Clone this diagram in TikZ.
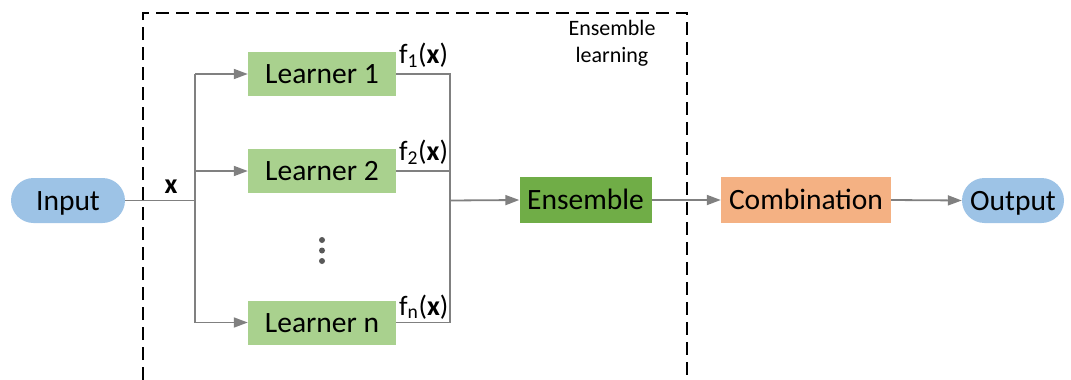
\documentclass[tikz,border=0pt]{standalone}
\usepackage{fontspec}
\setmainfont{Carlito}
\usetikzlibrary{arrows.meta,shapes.misc}
\definecolor{lblue}{HTML}{9DC3E6}
\definecolor{lgreen}{HTML}{A9D18E}
\definecolor{dgreen}{HTML}{70AD47}
\definecolor{lorange}{HTML}{F4B183}
\definecolor{cgray}{HTML}{808080}
\definecolor{dotgray}{HTML}{595959}
\begin{document}
\begin{tikzpicture}[x=1pt,y=-1pt,
  box/.style={draw=none,minimum height=46pt,inner sep=0pt,text=black,text height=19pt,text depth=0pt,font=\fontsize{29.5}{32}\selectfont},
  learner/.style={box,fill=lgreen,minimum width=148pt,minimum height=44pt},
  pill/.style={box,fill=lblue,rounded rectangle,minimum height=45pt},
  conn/.style={draw=cgray,line width=1.8pt},
  arr/.style={conn,-{Triangle[length=14pt,width=10pt]}},
  flabel/.style={anchor=base west,inner sep=0pt,font=\fontsize{28}{30}\selectfont},
  frame/.style={line width=2pt,dash pattern=on 13pt off 7pt}]
\useasboundingbox (0,0) rectangle (1071,380);

% ensemble frame
\draw[frame] (143,380) -- (143,13) -- (687,13) -- (687,380);
\node[align=center,inner sep=0pt,font=\fontsize{22}{27}\selectfont] (elab) at (612,43) {Ensemble\\learning};

% nodes
\node[pill,minimum width=114pt] (in) at (68,200.5) {Input};
\node[learner] (l1) at (322,74) {Learner 1};
\node[learner] (l2) at (322,171) {Learner 2};
\node[learner] (ln) at (322,322.5) {Learner n};
\node[box,fill=dgreen,minimum width=132pt] (ens) at (585.5,200) {Ensemble};
\node[box,fill=lorange,minimum width=170pt] (comb) at (806,200) {Combination};
\node[pill,minimum width=102pt] (out) at (1013,200.5) {Output};

% dots
\foreach \yy in {240,250.5,261}
  \fill[dotgray] (322,\yy) circle (3pt);

% input bus
\coordinate (bl) at (195,200.5);
\coordinate (blt) at (195,74);
\coordinate (blb) at (195,322.5);
\draw[conn] (in.east) -- (bl);
\draw[conn] (blt) -- (blb);
\node[inner sep=0pt,anchor=base,font=\fontsize{28}{30}\selectfont\bfseries] (xl) at (171,193) {x};
\draw[arr] (blt) -- (l1.west);
\draw[arr] (bl |- l2.west) -- (l2.west);
\draw[arr] (blb) -- (ln.west);

% output bus
\coordinate (brt) at (450,74);
\coordinate (brb) at (450,322.5);
\coordinate (br) at (450,200.5);
\draw[conn] (l1.east) -- (brt) -- (brb) -- (ln.east);
\draw[conn] (l2.east) -- (brt |- l2.east);
\draw[arr] (br) -- (ens.west);
\node[flabel] (f1) at (399,63) {f\textsubscript{1}(\textbf{x})};
\node[flabel] (f2) at (399,160) {f\textsubscript{2}(\textbf{x})};
\node[flabel] (fn) at (399,315) {f\textsubscript{n}(\textbf{x})};

\draw[arr] (ens.east) -- (comb.west);
\draw[arr] (comb.east) -- (out.west);
\end{tikzpicture}
\end{document}
